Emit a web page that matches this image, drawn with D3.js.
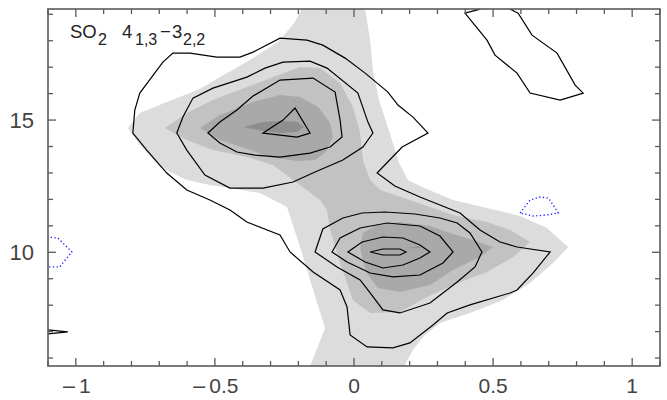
<!DOCTYPE html>
<html><head><meta charset="utf-8">
<script src="https://cdn.jsdelivr.net/npm/d3@7"></script>
<style>body{margin:0;background:#fff} svg{display:block}</style>
</head><body>
<svg id="c" width="667" height="400"></svg>
<script>
// ---- axes ----
const xDomain = [-1.1, 1.1];
const yDomain = [5.7, 19.2];
const xMajorTicks = [-1, -0.5, 0, 0.5, 1];
const xTickLabels = ["−1", "−0.5", "0", "0.5", "1"];
const yMajorTicks = [10, 15];
const yTickLabels = ["10", "15"];
const xMinorTicks = [-1.1,-1.0,-0.9,-0.8,-0.7,-0.6,-0.5,-0.4,-0.3,-0.2,-0.1,0,0.1,0.2,0.3,0.4,0.5,0.6,0.7,0.8,0.9,1.0,1.1];
const yMinorTicks = [6,7,8,9,10,11,12,13,14,15,16,17,18,19];

// ---- filled levels (x offset, velocity) ----
const fillLevel1 = [[-0.813,14.698],[-0.770,15.265],[-0.673,15.680],[-0.554,16.172],[-0.475,16.663],[-0.374,17.267],[-0.273,17.948],[-0.212,18.704],[-0.180,19.4],[0.040,19.4],[0.040,19.195],[0.058,18.023],[0.068,16.889],[0.090,15.756],[0.133,14.358],[0.162,13.375],[0.194,12.733],[0.245,12.468],[0.356,11.977],[0.478,11.674],[0.597,11.372],[0.694,10.918],[0.741,10.465],[0.770,10.201],[0.716,9.596],[0.633,8.840],[0.536,8.198],[0.417,7.706],[0.309,7.328],[0.255,6.875],[0.212,6.309],[0.170,5.5],[-0.165,5.5],[-0.104,7.140],[-0.147,8.576],[-0.194,10.201],[-0.241,11.712],[-0.338,12.241],[-0.428,12.392],[-0.518,12.544],[-0.601,12.733],[-0.698,13.224],[-0.770,14.055]];
const fillLevel2 = [[-0.680,14.698],[-0.601,15.265],[-0.507,15.756],[-0.385,16.247],[-0.291,16.625],[-0.194,17.003],[-0.122,16.965],[-0.050,16.398],[-0.004,15.491],[0.022,14.509],[0.032,13.488],[0.058,12.733],[0.094,12.355],[0.201,11.977],[0.273,11.712],[0.356,11.410],[0.478,11.145],[0.561,10.843],[0.633,10.390],[0.572,9.823],[0.478,9.256],[0.356,8.765],[0.255,8.273],[0.165,7.744],[0.058,7.706],[-0.004,8.198],[-0.050,9.596],[-0.086,10.843],[-0.097,11.599],[-0.122,11.977],[-0.219,12.733],[-0.291,13.299],[-0.385,13.602],[-0.507,13.866],[-0.601,14.244]];
const fillLevel3a = [[-0.554,14.698],[-0.482,15.189],[-0.363,15.680],[-0.266,15.945],[-0.194,15.869],[-0.129,15.491],[-0.086,14.887],[-0.076,14.358],[-0.101,13.791],[-0.140,13.488],[-0.205,13.451],[-0.302,13.602],[-0.363,13.829],[-0.482,14.244]];
const fillLevel3b = [[0.022,10.163],[0.032,10.730],[0.076,10.994],[0.165,11.145],[0.273,10.994],[0.356,10.692],[0.428,10.465],[0.500,10.201],[0.453,9.823],[0.356,9.331],[0.273,8.765],[0.165,8.500],[0.086,8.652],[0.043,9.256]];
const fillLevel4a = [[-0.399,14.735],[-0.327,14.924],[-0.266,14.962],[-0.205,14.924],[-0.180,14.735],[-0.205,14.546],[-0.266,14.509],[-0.327,14.584]];
const fillLevel4b = [[0.183,10.14],[0.237,10.23],[0.237,10.17]];

// ---- contour lines ----
const contourOuter = [[-0.795,14.509],[-0.788,15.378],[-0.770,16.020],[-0.687,17.192],[-0.651,17.532],[-0.590,17.532],[-0.493,17.381],[-0.410,17.381],[-0.363,17.570],[-0.266,18.099],[-0.169,18.023],[-0.112,17.834],[-0.032,17.343],[0.040,16.776],[0.122,16.058],[0.158,15.567],[0.212,15.113],[0.266,14.509],[0.173,13.980],[0.083,12.997],[0.147,12.506],[0.237,12.090],[0.381,11.485],[0.453,10.843],[0.525,10.390],[0.586,10.201],[0.705,10.012],[0.644,9.218],[0.586,8.576],[0.561,8.462],[0.417,8.009],[0.335,7.706],[0.284,7.253],[0.201,6.573],[0.140,6.384],[0.047,6.422],[-0.014,6.875],[-0.025,7.933],[-0.050,8.576],[-0.147,9.256],[-0.230,10.012],[-0.266,10.654],[-0.385,11.145],[-0.446,11.599],[-0.518,11.977],[-0.601,12.355],[-0.673,12.997],[-0.745,13.866]];
const contourUpper2 = [[-0.637,14.509],[-0.615,15.113],[-0.579,15.831],[-0.507,16.209],[-0.385,16.625],[-0.320,16.965],[-0.255,17.192],[-0.158,17.230],[-0.097,16.965],[0.014,16.020],[0.029,15.567],[0.050,14.924],[0.068,14.509],[0.032,13.980],[-0.040,13.488],[-0.140,13.035],[-0.219,12.657],[-0.327,12.430],[-0.446,12.430],[-0.536,12.922],[-0.601,13.866]];
const contourUpper3 = [[-0.525,14.509],[-0.482,14.924],[-0.421,15.378],[-0.363,15.907],[-0.266,16.512],[-0.147,16.587],[-0.068,16.058],[-0.050,15.000],[-0.043,14.358],[-0.086,13.980],[-0.158,13.753],[-0.266,13.602],[-0.356,13.677],[-0.421,13.791],[-0.482,14.131]];
const contourUpper4 = [[-0.327,14.509],[-0.255,15.000],[-0.212,15.453],[-0.158,14.509],[-0.205,14.358],[-0.266,14.433]];
const contourLower2 = [[-0.140,10.012],[-0.112,10.880],[-0.040,11.296],[0.029,11.485],[0.112,11.523],[0.219,11.448],[0.309,11.296],[0.371,11.107],[0.417,10.730],[0.460,10.012],[0.435,9.445],[0.371,8.878],[0.273,8.084],[0.165,7.706],[0.104,7.820],[0.058,8.462],[0.022,8.954],[-0.061,9.445]];
const contourLower3 = [[-0.079,10.012],[-0.050,10.541],[0.022,10.918],[0.119,11.107],[0.237,10.994],[0.309,10.616],[0.356,10.012],[0.320,9.596],[0.237,9.142],[0.140,9.067],[0.058,9.218],[-0.025,9.634]];
const contourLower4 = [[-0.022,10.012],[0.029,10.390],[0.104,10.578],[0.176,10.541],[0.237,10.276],[0.273,10.012],[0.237,9.785],[0.176,9.520],[0.104,9.407],[0.040,9.634]];
const contourLower5 = [[0.058,10.012],[0.104,10.125],[0.165,10.125],[0.187,10.012],[0.165,9.898],[0.104,9.898]];
const contourTopRight = [[0.49,19.6],[0.453,19.195],[0.399,19.044],[0.478,18.023],[0.507,17.456],[0.586,16.776],[0.633,16.020],[0.741,15.756],[0.824,16.020],[0.795,16.323],[0.730,17.532],[0.640,18.212],[0.590,19.044],[0.561,19.195],[0.55,19.6]];
const contourEdge = [[-1.15,7.07],[-1.101,7.064],[-1.029,6.988],[-1.101,6.913],[-1.15,6.91]];
const negContourRight = [[0.597,11.485],[0.633,11.977],[0.669,12.090],[0.698,12.052],[0.716,11.788],[0.734,11.485],[0.694,11.410],[0.644,11.372]];
const negContourLeft = [[-1.13,10.578],[-1.101,10.578],[-1.065,10.541],[-1.032,10.201],[-1.014,10.012],[-1.032,9.785],[-1.058,9.445],[-1.101,9.445],[-1.13,9.445]];

// ---- drawing ----
const L = 48, R = 660, T = 9, B = 366;
const svg = d3.select("#c");
const x = d3.scaleLinear().domain(xDomain).range([L, R]);
const y = d3.scaleLinear().domain(yDomain).range([B, T]);
const line = d3.line().x(d => x(d[0])).y(d => y(d[1]));

svg.append("defs").append("clipPath").attr("id", "clip")
  .append("rect").attr("x", L).attr("y", T).attr("width", R - L).attr("height", B - T);

const plot = svg.append("g").attr("clip-path", "url(#clip)");

const fills = [
  {d: fillLevel1, c: "#dcdcdc"},
  {d: fillLevel2, c: "#c2c2c2"},
  {d: fillLevel3a, c: "#a9a9a9"},
  {d: fillLevel3b, c: "#a9a9a9"},
  {d: fillLevel4a, c: "#8e8e8e"},
  {d: fillLevel4b, c: "#8e8e8e"}
];
plot.selectAll("path.fill").data(fills).join("path")
  .attr("class", "fill")
  .attr("d", f => line(f.d) + "Z")
  .attr("fill", f => f.c)
  .attr("stroke", "none");

const closedContours = [contourOuter, contourUpper2, contourUpper3, contourUpper4,
  contourLower2, contourLower3, contourLower4, contourLower5, contourTopRight, contourEdge];
plot.selectAll("path.cont").data(closedContours).join("path")
  .attr("class", "cont")
  .attr("d", c => line(c) + "Z")
  .attr("fill", "none")
  .attr("stroke", "#000")
  .attr("stroke-width", 1.2)
  .attr("stroke-linejoin", "miter");

plot.append("path").attr("d", line(negContourRight) + "Z")
  .attr("fill", "none").attr("stroke", "#1a1aff").attr("stroke-width", 1.3)
  .attr("stroke-dasharray", "1.3,2.4");
plot.append("path").attr("d", line(negContourLeft))
  .attr("fill", "none").attr("stroke", "#1a1aff").attr("stroke-width", 1.3)
  .attr("stroke-dasharray", "1.3,2.4");

// frame
const axisColor = "#5a5a5a";
svg.append("rect").attr("x", L).attr("y", T).attr("width", R - L).attr("height", B - T)
  .attr("fill", "none").attr("stroke", axisColor).attr("stroke-width", 1.6);

const ticks = svg.append("g").attr("stroke", axisColor).attr("stroke-width", 1.3);
const majLen = 8, minLen = 5;
const isMajorX = v => xMajorTicks.some(m => Math.abs(m - v) < 1e-6);
const isMajorY = v => yMajorTicks.some(m => Math.abs(m - v) < 1e-6);
xMinorTicks.forEach(v => {
  const len = isMajorX(v) ? majLen : minLen;
  ticks.append("line").attr("x1", x(v)).attr("x2", x(v)).attr("y1", B).attr("y2", B - len);
  ticks.append("line").attr("x1", x(v)).attr("x2", x(v)).attr("y1", T).attr("y2", T + len);
});
yMinorTicks.forEach(v => {
  const len = isMajorY(v) ? majLen : minLen;
  ticks.append("line").attr("y1", y(v)).attr("y2", y(v)).attr("x1", L).attr("x2", L + len);
  ticks.append("line").attr("y1", y(v)).attr("y2", y(v)).attr("x1", R).attr("x2", R - len);
});

// tick labels
const labelFont = "'Liberation Sans', Arial, sans-serif";
const labelColor = "#444";
xMajorTicks.forEach((v, i) => {
  const lab = xTickLabels[i];
  const t = svg.append("text").attr("x", x(v)).attr("y", 393)
    .attr("text-anchor", "middle").attr("font-family", labelFont)
    .attr("font-size", 21).attr("fill", labelColor);
  if (lab.startsWith("−")) {
    t.append("tspan").attr("font-family", "'DejaVu Sans', sans-serif").attr("font-size", 19).text("−");
    t.append("tspan").attr("dx", 2).text(lab.slice(1));
  } else t.text(lab);
});
yMajorTicks.forEach((v, i) => {
  svg.append("text").attr("x", 34).attr("y", y(v) + 8)
    .attr("text-anchor", "end").attr("font-family", labelFont)
    .attr("font-size", 22).attr("fill", labelColor).text(yTickLabels[i]);
});

// title label
const tg = svg.append("g").attr("font-family", labelFont).attr("fill", "#222");
const titleParts = [
  {t: "SO", x: 70, y: 38, s: 18.5},
  {t: "2", x: 98, y: 45, s: 16},
  {t: "4", x: 122, y: 38, s: 18.5},
  {t: "1,3", x: 135, y: 45, s: 16},
  {t: "−", x: 160, y: 38, s: 18.5},
  {t: "3", x: 172, y: 38, s: 18.5},
  {t: "2,2", x: 183, y: 45, s: 16}
];
titleParts.forEach(p => tg.append("text").attr("x", p.x).attr("y", p.y).attr("font-size", p.s).text(p.t));
</script>
</body></html>
